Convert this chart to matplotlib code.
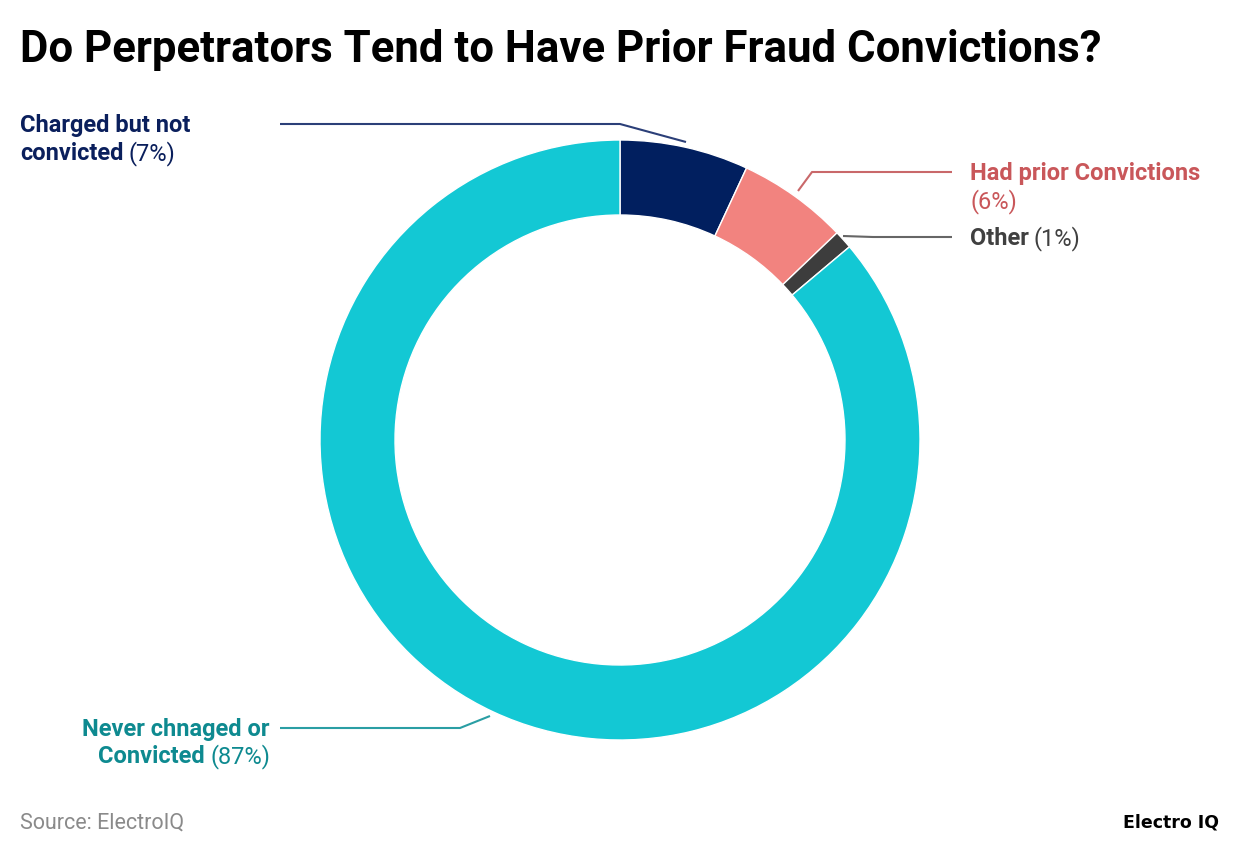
import matplotlib
matplotlib.use("Agg")
import matplotlib.pyplot as plt

# ----- datos -----
categorias = ["Charged but not convicted", "Had prior Convictions", "Other", "Never chnaged or Convicted"]
valores = [7, 6, 1, 87]
colores = ["#011f5f", "#f2837f", "#3d3d3d", "#13c8d4"]

W, H = 1240, 856
fig = plt.figure(figsize=(W / 100, H / 100), dpi=100)
ax = fig.add_axes([0, 0, 1, 1])

FONT = "Roboto"
cx, cy = 620, H - 440
ax.pie(valores, colors=colores, startangle=90, counterclock=False,
       radius=300, center=(cx, cy), frame=True,
       wedgeprops=dict(width=75, edgecolor="white", linewidth=1))
ax.set_xlim(0, W)
ax.set_ylim(0, H)
ax.set_aspect("auto")
ax.axis("off")

fig.canvas.draw()
rend = fig.canvas.get_renderer()


def ancho(t):
    return t.get_window_extent(renderer=rend).width


def texto_rico(x, ytop, partes, color, ha="left", size=17):
    """partes: lista de (texto, negrita). ytop = baseline medida desde arriba"""
    y = H - ytop
    if ha == "left":
        for txt, bold in partes:
            t = ax.text(x, y, txt, fontsize=size, family=FONT, color=color,
                        fontweight="bold" if bold else "normal", va="baseline", ha="left")
            x += ancho(t) + 5
    else:
        for txt, bold in reversed(partes):
            t = ax.text(x, y, txt, fontsize=size, family=FONT, color=color,
                        fontweight="bold" if bold else "normal", va="baseline", ha="right")
            x -= ancho(t) + 5


def linea(pts, color):
    xs = [p[0] for p in pts]
    ys = [H - p[1] for p in pts]
    ax.plot(xs, ys, color=color, lw=1.5, solid_capstyle="butt")


# titulo
fig.text(20 / W, 1 - 62 / H, "Do Perpetrators Tend to Have Prior Fraud Convictions?",
         fontsize=31.5, fontweight="bold", family=FONT, color="black", va="baseline")

# etiquetas
linea([(280, 124), (620, 124), (686, 142)], "#2b3f78")
texto_rico(20, 132, [("Charged but not", True)], "#0a1f5c")
texto_rico(20, 160, [("convicted", True), ("(7%)", False)], "#0a1f5c")

linea([(798, 191), (812, 172), (952, 172)], "#c9686a")
texto_rico(970, 180, [("Had prior Convictions", True)], "#c9575a")
texto_rico(970, 208, [("(6%)", False)], "#c9575a")

linea([(843, 236), (873, 237), (952, 237)], "#666666")
texto_rico(970, 245, [("Other", True), ("(1%)", False)], "#404040")

linea([(490, 716), (460, 728), (280, 728)], "#2a9ea4")
texto_rico(270, 736, [("Never chnaged or", True)], "#0e8a90", ha="right")
texto_rico(270, 763, [("Convicted", True), ("(87%)", False)], "#0e8a90", ha="right")

# pie
fig.text(20 / W, 1 - 829 / H, "Source: ElectroIQ", fontsize=15.5, family=FONT,
         color="#8a8a8a", va="baseline")
fig.text(1219 / W, 1 - 827 / H, "Electro IQ", fontsize=12.5, fontweight="bold",
         family="DejaVu Sans", color="black", va="baseline", ha="right")

fig.savefig("out.png", dpi=100)
